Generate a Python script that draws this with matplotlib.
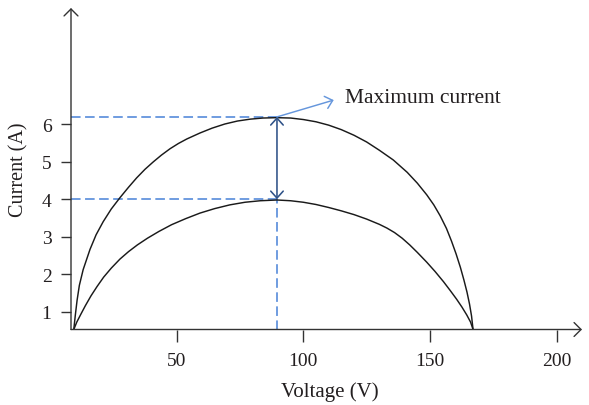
import matplotlib
matplotlib.use("Agg")
import matplotlib.pyplot as plt

# ---- data ----
upper_v = [9.4, 10.0, 10.7, 11.6, 13.1, 15.8, 18.2, 21.0, 24.2, 27.6, 31.0, 34.2, 37.5,
           40.8, 44.0, 47.4, 50.7, 54.0, 59.2, 64.0, 69.0, 74.0, 79.0, 84.0, 89.6,
           95.0, 100.0, 105.0, 110.0, 115.0, 120.0, 125.0, 130.0, 135.5, 141.0, 145.0,
           148.7, 151.5, 154.0, 156.5, 158.5, 160.3, 162.0, 163.4, 164.6, 165.6, 166.4,
           167.0]
upper_i = [0.52, 0.90, 1.30, 1.70, 2.12, 2.66, 3.05, 3.40, 3.74, 4.04, 4.32, 4.57, 4.80,
           5.00, 5.18, 5.35, 5.49, 5.61, 5.77, 5.90, 6.01, 6.09, 6.14, 6.17, 6.18,
           6.17, 6.13, 6.07, 5.98, 5.86, 5.71, 5.53, 5.31, 5.05, 4.72, 4.43,
           4.12, 3.85, 3.56, 3.22, 2.88, 2.54, 2.18, 1.84, 1.52, 1.20, 0.88,
           0.52]

lower_v = [9.4, 10.6, 12.2, 14.0, 16.2, 18.6, 21.2, 24.2, 27.6, 31.0, 34.5, 38.5, 43.0,
           48.0, 53.5, 59.2, 65.0, 71.0, 77.0, 83.0, 89.6, 95.0, 100.0, 105.0, 110.0,
           115.0, 120.0, 125.0, 130.0, 133.0, 136.0, 139.0, 142.0, 145.0, 148.7, 152.0,
           155.3, 158.0, 160.5, 162.6, 164.5, 166.0, 167.0]
lower_i = [0.52, 0.72, 0.93, 1.16, 1.42, 1.67, 1.92, 2.16, 2.40, 2.60, 2.78, 2.96, 3.14,
           3.32, 3.48, 3.63, 3.75, 3.85, 3.92, 3.96, 3.98, 3.96, 3.92, 3.86, 3.78,
           3.69, 3.59, 3.47, 3.33, 3.23, 3.11, 2.96, 2.78, 2.58, 2.32, 2.07,
           1.80, 1.56, 1.33, 1.12, 0.91, 0.72, 0.52]

peak_v = 89.6
peak_high = 6.2
peak_low = 4.0
label_point = (112.0, 6.65)
label_text = "Maximum current"

x_ticks = [50, 100, 150, 200]
y_ticks = [1, 2, 3, 4, 5, 6]
x_range = (8.3, 210.0)
y_range = (0.52, 9.11)

# ---- styling ----
TXT = "#231f20"
DASH = "#4f86d9"
DARKBLUE = "#2f5288"
LIGHTBLUE = "#6596dc"
SERIF = ["Liberation Serif", "DejaVu Serif"]
plt.rcParams["font.family"] = SERIF

fig = plt.figure(figsize=(5.89, 4.06), dpi=100)
W, H = 589, 406
ax = fig.add_axes([71 / W, (H - 330.5) / H, (582 - 71) / W, (330.5 - 9) / H])
ax.set_xlim(*x_range)
ax.set_ylim(*y_range)
for s in ax.spines.values():
    s.set_visible(False)

# axis lines with open arrow heads
arrow_kw = dict(arrowstyle="->,head_length=0.5,head_width=0.5", lw=1.0,
                color="#333333", shrinkA=0, shrinkB=0, mutation_scale=10)
ax.annotate("", xy=(1, 0), xytext=(0, 0), xycoords="axes fraction",
            textcoords="axes fraction", arrowprops=arrow_kw, annotation_clip=False)
ax.annotate("", xy=(0, 1), xytext=(0, 0), xycoords="axes fraction",
            textcoords="axes fraction", arrowprops=arrow_kw, annotation_clip=False)

ax.set_xticks(x_ticks)
ax.set_yticks(y_ticks)
ax.set_xticklabels([str(t) for t in x_ticks])
ax.set_yticklabels([str(t) for t in y_ticks])
ax.tick_params(axis="x", direction="out", length=8.5, width=1.0, color="#333333",
               labelsize=14, labelcolor=TXT, pad=8)
ax.tick_params(axis="y", direction="out", length=7, width=1.0, color="#333333",
               labelsize=14, labelcolor=TXT, pad=7)

# dashed guide lines
dash_kw = dict(color=DASH, lw=1.15, dashes=(6.0, 2.8))
ax.plot([x_range[0], peak_v], [peak_high, peak_high], **dash_kw)
ax.plot([x_range[0], peak_v], [peak_low, peak_low], **dash_kw)
ax.plot([peak_v, peak_v], [y_range[0], peak_low], **dash_kw)

# curves
ax.plot(upper_v, upper_i, color="#1a1a1a", lw=1.05, solid_joinstyle="round")
ax.plot(lower_v, lower_i, color="#1a1a1a", lw=1.05, solid_joinstyle="round")

# double arrow between peaks
ax.annotate("", xy=(peak_v, peak_low), xytext=(peak_v, peak_high),
            arrowprops=dict(arrowstyle="<->,head_length=0.5,head_width=0.45", lw=1.15,
                            color=DARKBLUE, shrinkA=0, shrinkB=0, mutation_scale=10))

# maximum current pointer
ax.annotate("", xy=label_point, xytext=(peak_v, peak_high),
            arrowprops=dict(arrowstyle="->,head_length=0.5,head_width=0.45", lw=1.05,
                            color=LIGHTBLUE, shrinkA=0, shrinkB=0, mutation_scale=10))
ax.text(116.3, 6.72, label_text, fontsize=15.5, color=TXT, va="center", ha="left")

# axis labels
fig.text(330 / W, 1 - 392 / H, "Voltage (V)", fontsize=15, color=TXT,
         ha="center", va="center")
fig.text(19 / W, 1 - 170 / H, "Current (A)", fontsize=14.5, color=TXT,
         ha="center", va="center", rotation=90)

fig.savefig("out.png", dpi=100)
